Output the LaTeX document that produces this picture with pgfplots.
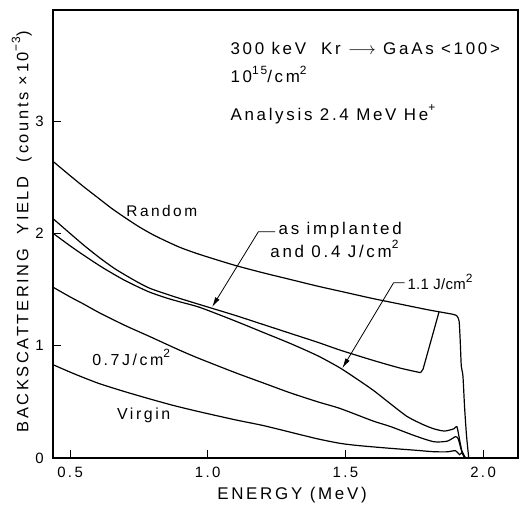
\documentclass[border=0pt]{standalone}
\usepackage{fontspec}
\setmainfont[LetterSpace=16]{Liberation Sans}
\usepackage{pgfplots}
\pgfplotsset{compat=1.18}
\usetikzlibrary{arrows.meta}

% raised exponent, plotter style
\newcommand{\up}[1]{\raisebox{0.5em}{\fontsize{12}{12}\selectfont #1}}

\pgfplotsset{
  curve/.style={black, line width=1.2bp, no marks, smooth, tension=0.4},
  straight/.style={black, line width=1.2bp, no marks},
}

\begin{document}
\begin{tikzpicture}
\begin{axis}[
  scale only axis,
  width=465bp,
  height=448bp,
  xmin=0.438, xmax=2.127,
  ymin=0, ymax=3.99,
  axis line style={line width=1.2bp},
  tick align=inside,
  xtick pos=bottom,
  ytick pos=left,
  major tick length=8bp,
  tick style={line width=1bp, black},
  xtick={0.5,1,1.5,2},
  xticklabels={0.5,1.0,1.5,2.0},
  ytick={0,1,2,3},
  yticklabels={0,1,2,3},
  tick label style={font=\fontsize{15}{15}\selectfont},
  xticklabel style={anchor=north, inner sep=0pt, yshift=-9bp},
  yticklabel style={anchor=east, inner sep=0pt, xshift=-9bp},
  xlabel={ENERGY (MeV)},
  ylabel={BACKSCATTERING\ \ YIELD\ \ (counts \texttimes\,10\up{\textminus3})},
  every axis x label/.style={at={(axis description cs:0.514,-0.083)}, anchor=center, font=\fontsize{17}{17}\selectfont},
  every axis y label/.style={at={(axis description cs:-0.067,0.505)}, rotate=90, anchor=center, font=\fontsize{16.5}{16.5}\selectfont},
  clip=false,
]
% Random
\addplot[curve] coordinates {
  (0.439,2.64) (0.5,2.515) (0.55,2.415) (0.6,2.32) (0.65,2.225) (0.7,2.14)
  (0.75,2.06) (0.8,1.99) (0.85,1.93) (0.9,1.875) (0.95,1.83) (1.0,1.79)
  (1.1,1.715) (1.2,1.65) (1.3,1.59) (1.4,1.53) (1.5,1.475) (1.6,1.42)
  (1.7,1.37) (1.8,1.32) (1.89,1.28) (1.905,1.265) (1.913,1.22) (1.917,1.05)
  (1.921,0.82) (1.927,0.73) (1.933,0.45) (1.94,0.20) (1.948,0)
};
% as implanted and 0.4 J/cm2
\addplot[curve] coordinates {
  (0.439,2.13) (0.5,2.00) (0.55,1.895) (0.609,1.78) (0.66,1.69) (0.7,1.63)
  (0.75,1.56) (0.791,1.51) (0.85,1.46) (0.9,1.42) (0.973,1.365) (1.1,1.27)
  (1.2,1.19) (1.3,1.11) (1.4,1.03) (1.482,0.96) (1.6,0.87) (1.7,0.80)
  (1.773,0.76)
};
\addplot[straight] coordinates {
  (1.773,0.76) (1.782,0.79) (1.84,1.30)
};
% 1.1 J/cm2
\addplot[curve] coordinates {
  (0.439,2.00) (0.5,1.89) (0.55,1.805) (0.609,1.71) (0.66,1.635) (0.7,1.58)
  (0.75,1.52) (0.791,1.475) (0.85,1.425) (0.9,1.39) (0.973,1.34) (1.1,1.22)
  (1.2,1.12) (1.3,1.02) (1.4,0.91) (1.482,0.80) (1.55,0.69) (1.603,0.60)
  (1.66,0.49) (1.724,0.37) (1.78,0.30) (1.821,0.26) (1.86,0.24) (1.894,0.26)
  (1.905,0.28) (1.915,0.16) (1.925,0.04) (1.935,0)
};
% 0.7 J/cm2
\addplot[curve] coordinates {
  (0.439,1.52) (0.5,1.435) (0.55,1.37) (0.609,1.29) (0.7,1.18) (0.791,1.08)
  (0.88,0.98) (0.955,0.90) (1.1,0.76) (1.2,0.67) (1.3,0.58) (1.4,0.50)
  (1.482,0.44) (1.6,0.33) (1.664,0.28) (1.75,0.20) (1.821,0.145) (1.87,0.15)
  (1.9,0.19) (1.91,0.17) (1.92,0.08) (1.93,0.02) (1.94,0)
};
% Virgin
\addplot[curve] coordinates {
  (0.439,0.83) (0.5,0.765) (0.55,0.715) (0.609,0.66) (0.7,0.59) (0.791,0.525)
  (0.88,0.465) (0.973,0.41) (1.1,0.34) (1.2,0.29) (1.3,0.23) (1.4,0.17)
  (1.482,0.13) (1.55,0.11) (1.664,0.086) (1.75,0.07) (1.821,0.056)
  (1.87,0.055) (1.9,0.065) (1.915,0.03) (1.925,0.05) (1.935,0)
};

\coordinate (bl) at (rel axis cs:0,0);
\coordinate (tr) at (rel axis cs:1,1);

\begin{scope}[every node/.style={anchor=base west, inner sep=0pt, font=\fontsize{17}{17}\selectfont}]
\node at (axis cs:1.082,3.59) {300 keV\ \ Kr $\longrightarrow$ GaAs <100>};
\node at (axis cs:1.082,3.34) {10\up{15}/cm\up{2}};
\node at (axis cs:1.082,3.01) {Analysis 2.4 MeV He\up{+}};
\end{scope}

\begin{scope}[every node/.style={anchor=base west, inner sep=0pt}]
\node[font=\fontsize{15.5}{15.5}\selectfont] at (axis cs:0.704,2.15) {Random};
\node[font=\fontsize{17}{17}\selectfont] at (axis cs:1.257,1.99) {as implanted};
\node[font=\fontsize{17}{17}\selectfont] at (axis cs:1.227,1.79) {and 0.4 J/cm\up{2}};
\node[font=\fontsize{15}{15}\selectfont\addfontfeatures{LetterSpace=2}] at (axis cs:1.725,1.50) {1.1 J/cm\up{2}};
\node[font=\fontsize{16}{16}\selectfont] at (axis cs:0.58,0.82) {0.7J/cm\up{2}};
\node[font=\fontsize{16}{16}\selectfont] at (axis cs:0.67,0.345) {Virgin};
\end{scope}

\draw[line width=0.8bp, -{Latex[length=10bp,width=5bp]}]
  (axis cs:1.245,2.015) -- (axis cs:1.184,2.015) -- (axis cs:1.016,1.345);
\draw[line width=0.8bp, -{Latex[length=10bp,width=5bp]}]
  (axis cs:1.715,1.56) -- (axis cs:1.675,1.56) -- (axis cs:1.489,0.80);
\end{axis}
\pgfresetboundingbox
\path ([shift={(-53bp,-47bp)}]bl) rectangle ([shift={(6bp,10bp)}]tr);
\end{tikzpicture}
\end{document}
